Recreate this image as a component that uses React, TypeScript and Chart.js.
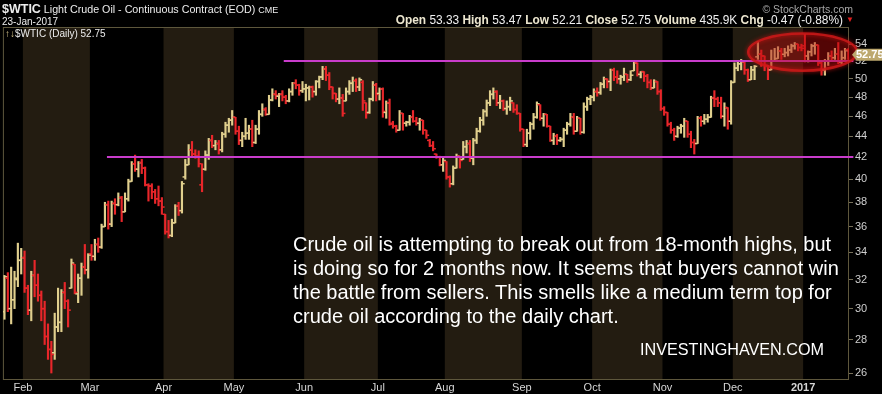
import React, { useEffect, useRef } from 'react';
import { Chart, registerables } from 'chart.js';

Chart.register(...registerables);

// Daily bars, 22-Jan-2016 .. 23-Jan-2017 (index = trading day)
const OPEN = [
  29.8, 32.1, 30.0, 30.6, 32.0, 33.4, 33.6, 31.4, 29.9, 32.3, 31.6, 30.9, 30.0, 28.2, 27.4, 27.2, 28.8, 29.1, 31.1, 30.5,
  31.4, 33.1, 31.0, 32.1, 32.9, 32.7, 33.9, 33.7, 34.6, 34.4, 36.0, 37.8, 36.2, 37.9, 37.8, 38.4, 37.2, 38.3, 39.8, 41.4,
  40.9, 41.5, 41.0, 39.5, 39.4, 38.9, 38.3, 38.1, 37.0, 35.6, 35.3, 36.3, 37.7, 37.3, 40.2, 41.3, 42.7, 42.3, 42.1, 39.5,
  40.9, 42.2, 43.6, 43.1, 43.3, 42.7, 44.2, 45.1, 45.6, 45.9, 44.5, 43.6, 44.0, 44.3, 44.7, 43.4, 44.7, 46.2, 46.7, 46.2,
  47.7, 48.3, 48.1, 48.3, 48.0, 47.6, 48.6, 49.5, 49.3, 48.7, 48.9, 49.0, 49.1, 48.6, 49.7, 50.2, 51.1, 50.4, 49.1, 48.4,
  47.8, 47.9, 47.6, 48.6, 49.5, 49.8, 49.1, 49.6, 47.4, 46.4, 47.8, 49.3, 48.4, 48.9, 46.4, 47.4, 45.3, 45.0, 44.6, 46.3,
  45.3, 45.4, 45.9, 45.5, 45.3, 45.6, 44.6, 43.6, 43.1, 42.3, 42.0, 41.3, 41.6, 40.2, 39.6, 41.0, 42.1, 41.8, 43.0, 43.3,
  41.9, 43.6, 44.5, 45.6, 46.5, 47.4, 48.3, 48.6, 47.4, 47.6, 46.8, 47.0, 47.4, 46.7, 46.3, 44.7, 43.2, 44.3, 45.2, 45.9,
  47.2, 45.8, 46.2, 45.0, 43.6, 44.0, 43.6, 43.7, 44.6, 45.2, 45.9, 44.5, 45.8, 44.4, 47.0, 47.8, 48.0, 48.6, 48.5, 49.4,
  50.0, 49.7, 51.0, 50.2, 50.0, 50.2, 50.5, 49.9, 50.9, 51.8, 50.5, 50.8, 50.3, 49.6, 49.0, 49.7, 48.6, 46.8, 46.4, 45.2,
  44.6, 44.0, 44.8, 45.0, 45.5, 44.2, 43.4, 43.3, 45.8, 45.5, 45.7, 45.9, 47.9, 47.8, 47.4, 46.0, 46.9, 45.5, 49.6, 51.2,
  51.7, 51.9, 51.0, 49.9, 51.0, 52.5, 52.8, 52.6, 51.5, 51.0, 52.0, 52.3, 53.2, 52.8, 53.0, 53.3, 53.8, 54.0, 53.6, 53.8,
  52.6, 53.1, 53.8, 53.9, 51.8, 51.0, 52.0, 52.6, 52.4, 52.8, 51.9, 52.4, 53.33,
];
const HIGH = [
  32.3, 32.5, 32.9, 32.6, 34.7, 34.3, 34.1, 31.6, 32.6, 33.4, 32.4, 31.2, 30.5, 29.0, 27.9, 29.7, 31.4, 31.3, 31.8, 30.6,
  33.5, 33.1, 32.4, 33.2, 34.6, 33.9, 34.6, 35.0, 35.1, 36.2, 38.0, 38.1, 38.1, 38.3, 38.8, 38.5, 38.8, 40.0, 41.6, 42.2,
  41.6, 41.8, 41.1, 39.6, 39.6, 39.1, 39.4, 38.4, 37.0, 36.5, 36.6, 37.8, 38.0, 39.8, 41.8, 43.2, 43.5, 42.7, 42.6, 41.4,
  42.6, 43.8, 44.1, 43.6, 43.6, 44.4, 45.4, 45.8, 46.6, 45.9, 45.0, 44.4, 45.8, 45.1, 45.6, 45.1, 46.6, 47.3, 46.9, 48.2,
  48.9, 48.7, 48.4, 48.7, 48.2, 48.9, 49.6, 49.9, 49.4, 49.7, 49.4, 49.2, 49.2, 49.8, 50.3, 51.4, 51.4, 50.7, 49.1, 48.4,
  49.0, 48.3, 49.0, 49.8, 50.2, 50.0, 50.1, 49.8, 47.4, 47.9, 49.7, 49.5, 49.0, 49.0, 47.6, 47.8, 45.5, 45.1, 46.6, 46.3,
  45.5, 46.1, 46.6, 45.9, 45.8, 45.6, 44.6, 43.7, 43.5, 42.3, 42.1, 41.9, 41.6, 40.3, 41.2, 42.3, 42.1, 43.5, 43.6, 43.6,
  43.8, 44.8, 45.9, 46.7, 47.7, 48.7, 49.0, 48.7, 48.2, 47.7, 47.6, 48.0, 47.4, 47.2, 46.3, 44.7, 44.7, 45.4, 46.3, 47.5,
  47.2, 46.3, 46.2, 45.0, 44.3, 44.2, 43.9, 44.8, 45.4, 46.3, 46.3, 46.0, 45.8, 47.4, 48.0, 48.2, 48.9, 49.0, 49.6, 50.2,
  50.0, 51.1, 51.2, 50.9, 50.4, 51.2, 50.5, 50.9, 52.0, 51.8, 50.8, 50.8, 50.5, 49.9, 49.9, 49.7, 48.8, 47.0, 46.4, 45.4,
  44.8, 45.0, 45.2, 45.8, 45.5, 44.5, 43.7, 46.0, 46.0, 46.2, 46.2, 48.1, 48.7, 48.0, 48.0, 47.4, 46.9, 49.8, 51.8, 52.0,
  52.2, 51.9, 51.1, 51.4, 51.5, 54.3, 53.3, 52.6, 51.5, 53.3, 53.5, 53.7, 53.5, 53.5, 53.8, 54.0, 54.2, 54.0, 54.0, 55.2,
  53.2, 54.0, 54.2, 53.9, 52.0, 52.2, 53.0, 53.2, 53.5, 54.2, 53.2, 53.5, 53.47,
];
const LOW = [
  29.3, 29.8, 29.0, 30.0, 31.5, 32.4, 31.1, 29.6, 29.2, 30.8, 30.5, 29.2, 27.7, 26.8, 26.0, 26.8, 28.5, 28.5, 30.0, 28.8,
  31.4, 31.0, 30.4, 30.9, 32.4, 32.1, 33.4, 33.4, 34.0, 34.3, 36.0, 35.8, 36.0, 37.0, 37.7, 36.4, 37.2, 38.1, 39.8, 40.7,
  40.2, 40.5, 39.4, 38.1, 38.3, 37.9, 37.7, 37.0, 35.4, 35.1, 35.2, 36.3, 36.9, 37.1, 40.0, 41.3, 42.1, 41.9, 41.1, 38.9,
  40.8, 41.8, 42.9, 42.7, 42.3, 42.5, 43.9, 44.4, 45.1, 44.2, 43.2, 43.0, 43.7, 43.7, 43.0, 43.3, 44.2, 46.0, 46.1, 46.2,
  47.6, 47.8, 47.0, 47.6, 47.3, 47.5, 48.2, 48.9, 48.2, 48.5, 47.6, 47.7, 48.0, 48.2, 49.0, 49.9, 49.8, 48.8, 47.8, 47.5,
  47.3, 46.0, 47.6, 48.3, 48.6, 48.6, 48.7, 46.6, 45.8, 46.3, 47.6, 47.6, 47.7, 45.9, 45.8, 45.1, 44.8, 44.4, 44.6, 44.6,
  45.0, 45.1, 45.4, 45.1, 44.6, 44.2, 43.8, 43.0, 42.6, 41.9, 41.2, 40.7, 40.0, 39.3, 39.5, 41.0, 41.0, 41.8, 42.4, 41.6,
  41.3, 43.3, 44.4, 45.1, 46.0, 47.1, 47.8, 47.1, 46.8, 46.6, 46.2, 46.6, 46.4, 46.2, 44.5, 43.0, 43.0, 43.7, 44.7, 45.8,
  45.6, 45.0, 44.9, 43.5, 43.2, 43.2, 43.5, 43.0, 44.2, 45.0, 44.2, 44.5, 44.2, 44.3, 46.6, 47.2, 47.6, 48.1, 48.3, 49.0,
  49.0, 48.7, 49.8, 49.5, 49.4, 49.8, 49.6, 49.8, 50.9, 50.3, 50.1, 49.7, 49.0, 48.8, 49.0, 48.3, 46.6, 46.1, 45.0, 44.3,
  43.6, 43.9, 44.3, 43.9, 43.9, 42.9, 42.3, 43.3, 45.0, 45.2, 45.4, 45.9, 47.0, 47.0, 45.8, 45.0, 44.7, 45.2, 49.6, 50.9,
  51.0, 50.5, 49.7, 49.9, 49.9, 52.2, 51.4, 50.9, 49.9, 51.0, 52.0, 52.3, 52.2, 52.5, 52.6, 53.0, 53.4, 53.2, 53.2, 51.9,
  51.9, 52.6, 52.8, 51.5, 50.4, 50.4, 51.5, 52.0, 52.2, 51.7, 51.7, 52.2, 52.21,
];
const CLOSE = [
  32.2, 30.0, 30.6, 32.1, 33.4, 33.6, 31.4, 29.9, 32.3, 31.6, 30.9, 30.0, 28.2, 27.4, 27.1, 28.8, 29.1, 31.1, 30.5, 29.9,
  33.2, 31.1, 32.1, 32.9, 32.7, 33.8, 33.7, 34.6, 34.4, 36.0, 37.8, 36.2, 37.9, 37.8, 38.4, 37.2, 38.3, 39.8, 41.4, 40.9,
  41.5, 41.0, 39.5, 39.4, 38.9, 38.3, 38.1, 37.6, 35.6, 35.3, 36.3, 37.7, 37.3, 39.6, 41.3, 42.7, 42.3, 42.1, 41.4, 40.9,
  42.2, 43.6, 43.1, 43.3, 42.7, 44.2, 45.1, 45.6, 45.9, 44.5, 43.6, 44.0, 44.3, 44.7, 43.4, 44.7, 46.2, 46.7, 46.2, 47.7,
  48.3, 48.2, 48.3, 48.0, 47.6, 48.6, 49.5, 49.3, 48.7, 48.9, 49.0, 49.1, 48.6, 49.7, 50.2, 51.1, 50.4, 49.1, 48.4, 47.8,
  47.9, 46.3, 48.6, 49.5, 49.8, 49.1, 49.9, 47.6, 46.3, 47.8, 49.3, 48.3, 48.9, 46.5, 47.4, 45.2, 45.0, 44.6, 46.3, 45.3,
  45.4, 45.9, 45.5, 45.3, 45.6, 44.6, 44.1, 43.1, 42.8, 42.0, 41.3, 41.7, 40.2, 39.6, 41.0, 42.1, 41.7, 43.0, 43.3, 41.9,
  43.6, 44.5, 45.6, 46.5, 47.4, 48.3, 48.6, 47.4, 47.6, 46.8, 47.0, 47.6, 46.7, 46.3, 44.7, 43.2, 44.3, 45.2, 45.9, 47.3,
  45.8, 46.2, 45.0, 43.6, 44.0, 43.6, 43.7, 44.6, 45.2, 45.9, 44.5, 45.8, 44.4, 47.0, 47.8, 48.0, 48.6, 48.5, 49.4, 50.0,
  49.7, 51.0, 50.2, 50.0, 50.2, 50.5, 49.9, 50.4, 51.8, 50.5, 50.8, 50.3, 49.6, 49.0, 49.7, 48.6, 46.8, 46.4, 45.2, 44.6,
  44.0, 44.8, 45.0, 45.5, 44.2, 43.4, 43.3, 45.8, 45.5, 45.7, 45.9, 47.9, 47.8, 47.4, 46.0, 46.9, 45.5, 49.6, 51.2, 51.7,
  51.9, 51.0, 49.9, 51.0, 51.4, 52.8, 52.6, 51.5, 51.0, 52.0, 52.3, 53.2, 52.8, 53.0, 53.3, 53.8, 54.0, 53.6, 53.5, 52.6,
  53.1, 53.8, 53.9, 51.8, 51.0, 52.0, 52.6, 52.4, 52.8, 51.9, 52.4, 53.22, 52.75,
];

// Index of the first trading day of each month shown on the x axis
const MONTH_STARTS = [6, 26, 48, 69, 90, 112, 132, 155, 176, 197, 218, 239];
const MONTH_LABELS = ['Feb', 'Mar', 'Apr', 'May', 'Jun', 'Jul', 'Aug', 'Sep', 'Oct', 'Nov', 'Dec', '2017'];
const SHADED_MONTHS = ['Feb', 'Apr', 'Jun', 'Aug', 'Oct', 'Dec'];
const Y_TICKS = [26, 28, 30, 32, 34, 36, 38, 40, 42, 44, 46, 48, 50, 52, 54];

// Axis ranges
const X_MIN = -0.47;
const X_MAX = 252.2;
const Y_MIN = 25.6;
const Y_MAX = 56.1;

// Annotations (data coordinates)
const SUPPORT = { y: 42, from: 30.6, to: 253.5 };
const RESISTANCE = { y: 52, from: 83.4, to: 253.5 };
const ELLIPSE = { x0: 222.1, x1: 254.6, yLow: 50.9, yHigh: 55.3 };
const LAST_PRICE = 52.75;

const UP = '#e0cf8e';
const DOWN = '#e8262a';
const FONT = '"Liberation Sans", Arial, sans-serif';

const overlayPlugin = {
  id: 'overlay',
  beforeDatasetsDraw(chart: any) {
    const { ctx, chartArea: a, scales } = chart;
    const x = scales.x;
    ctx.save();
    ctx.fillStyle = '#231c11';
    MONTH_STARTS.forEach((s, k) => {
      if (!SHADED_MONTHS.includes(MONTH_LABELS[k])) return;
      const e = k + 1 < MONTH_STARTS.length ? MONTH_STARTS[k + 1] : CLOSE.length;
      const x0 = x.getPixelForValue(s - 0.5);
      const x1 = x.getPixelForValue(e - 0.5);
      ctx.fillRect(x0, a.top, x1 - x0, a.bottom - a.top);
    });
    ctx.strokeStyle = '#5e573c';
    ctx.lineWidth = 1;
    ctx.strokeRect(a.left + 0.5, a.top + 0.5, a.right - a.left - 1, a.bottom - a.top - 1);
    ctx.restore();
  },
  afterDatasetsDraw(chart: any) {
    const { ctx, chartArea: a, scales } = chart;
    const x = scales.x;
    const y = scales.y;
    ctx.save();
    // horizontal support / resistance lines
    ctx.strokeStyle = '#c93ccb';
    ctx.lineWidth = 2;
    [SUPPORT, RESISTANCE].forEach((l) => {
      const py = Math.round(y.getPixelForValue(l.y));
      ctx.beginPath();
      ctx.moveTo(x.getPixelForValue(l.from), py);
      ctx.lineTo(x.getPixelForValue(l.to), py);
      ctx.stroke();
    });
    // ellipse around the recent range
    const ex0 = x.getPixelForValue(ELLIPSE.x0);
    const ex1 = x.getPixelForValue(ELLIPSE.x1);
    const ey0 = y.getPixelForValue(ELLIPSE.yHigh);
    const ey1 = y.getPixelForValue(ELLIPSE.yLow);
    ctx.beginPath();
    ctx.ellipse((ex0 + ex1) / 2, (ey0 + ey1) / 2, (ex1 - ex0) / 2, (ey1 - ey0) / 2, 0, 0, Math.PI * 2);
    ctx.fillStyle = 'rgba(185, 10, 10, 0.45)';
    ctx.fill();
    ctx.shadowColor = 'rgba(220,20,20,0.9)';
    ctx.shadowBlur = 4;
    ctx.strokeStyle = 'rgba(205, 25, 25, 0.85)';
    ctx.lineWidth = 2.5;
    ctx.stroke();
    ctx.shadowBlur = 0;
    // last price marker on the right axis
    const py = y.getPixelForValue(LAST_PRICE);
    const bx = a.right + 3;
    ctx.fillStyle = '#bda86e';
    ctx.beginPath();
    ctx.moveTo(bx, py);
    ctx.lineTo(bx + 5, py - 6);
    ctx.lineTo(882, py - 6);
    ctx.lineTo(882, py + 6);
    ctx.lineTo(bx + 5, py + 6);
    ctx.closePath();
    ctx.fill();
    ctx.fillStyle = '#ffffff';
    ctx.font = `bold 11px ${FONT}`;
    ctx.textBaseline = 'middle';
    ctx.textAlign = 'left';
    ctx.fillText(LAST_PRICE.toFixed(2), bx + 4, py + 0.5);
    ctx.restore();
  },
};

export default function App() {
  const ref = useRef<HTMLCanvasElement>(null);

  useEffect(() => {
    if (!ref.current) return;
    const colors = CLOSE.map((c, i) => (i === 0 || c >= CLOSE[i - 1] ? UP : DOWN));
    const tick = {
      type: 'scatter',
      pointStyle: 'line',
      pointRadius: 1.4,
      pointBorderWidth: 1.5,
      pointBorderColor: colors,
      pointBackgroundColor: colors,
      pointHoverRadius: 0,
      showLine: false,
      order: 1,
    };
    const chart = new Chart(ref.current, {
      type: 'bar',
      data: {
        datasets: [
          {
            type: 'bar',
            data: CLOSE.map((_, i) => ({ x: i, y: [LOW[i], HIGH[i]] })) as any,
            backgroundColor: colors,
            barThickness: 1.5,
            borderWidth: 0,
            grouped: false,
            order: 2,
          } as any,
          { ...tick, data: OPEN.map((o, i) => ({ x: i - 0.4, y: o })) } as any,
          { ...tick, data: CLOSE.map((c, i) => ({ x: i + 0.4, y: c })) } as any,
        ],
      },
      options: {
        animation: false,
        responsive: false,
        devicePixelRatio: 1,
        events: [],
        layout: { padding: { left: 2, top: 27, right: 0, bottom: 0 } },
        plugins: { legend: { display: false }, tooltip: { enabled: false } },
        scales: {
          x: {
            type: 'linear',
            min: X_MIN,
            max: X_MAX,
            offset: false,
            bounds: 'data',
            grid: { display: false, drawTicks: false },
            border: { display: false },
            afterBuildTicks: (s: any) => {
              s.ticks = MONTH_STARTS.map((v) => ({ value: v - 0.5 }));
            },
            afterFit: (s: any) => {
              s.height = 14;
            },
            ticks: {
              autoSkip: false,
              maxRotation: 0,
              padding: 1,
              color: '#d6d6d6',
              font: (c: any) => ({
                family: FONT,
                size: 11,
                weight: MONTH_LABELS[c.index] === '2017' ? 'bold' : 'normal',
              }),
              callback: (_v: any, idx: number) => MONTH_LABELS[idx],
            },
          } as any,
          y: {
            type: 'logarithmic',
            position: 'right',
            min: Y_MIN,
            max: Y_MAX,
            bounds: 'data',
            grid: { drawOnChartArea: false, tickLength: 4, color: '#77705a' },
            border: { display: false },
            afterBuildTicks: (s: any) => {
              s.ticks = Y_TICKS.map((v) => ({ value: v }));
            },
            afterFit: (s: any) => {
              s.width = 33;
            },
            ticks: {
              autoSkip: false,
              padding: 2,
              color: '#cfcfcf',
              font: { family: FONT, size: 11 },
              callback: (v: any) => String(v),
            },
          } as any,
        },
      },
      plugins: [overlayPlugin],
    });
    return () => chart.destroy();
  }, []);

  const lbl: React.CSSProperties = { fontWeight: 'bold', color: '#ece6cf' };
  return (
    <div
      style={{
        position: 'fixed',
        left: 0,
        top: 0,
        width: 882,
        height: 394,
        background: '#000',
        overflow: 'hidden',
        fontFamily: FONT,
      }}
    >
      <canvas ref={ref} width={882} height={394} style={{ position: 'absolute', left: 0, top: 0 }} />
      <div style={{ position: 'absolute', left: 2, top: 1, color: '#ececec', fontSize: 10.7, lineHeight: '16px', whiteSpace: 'nowrap' }}>
        <span style={{ fontWeight: 'bold', fontSize: 12.5 }}>$WTIC</span> Light Crude Oil - Continuous Contract (EOD){' '}
        <span style={{ fontSize: 9 }}>CME</span>
      </div>
      <div style={{ position: 'absolute', left: 2, top: 15, color: '#ececec', fontSize: 10, lineHeight: '14px', whiteSpace: 'nowrap' }}>
        23-Jan-2017
      </div>
      <div style={{ position: 'absolute', right: 29, top: 2, color: '#a8a8a8', fontSize: 10.5, lineHeight: '14px', whiteSpace: 'nowrap' }}>
        © StockCharts.com
      </div>
      <div style={{ position: 'absolute', right: 39, top: 13, color: '#f0f0f0', fontSize: 11.9, lineHeight: '14px', whiteSpace: 'nowrap' }}>
        <span style={lbl}>Open</span> 53.33 <span style={lbl}>High</span> 53.47 <span style={lbl}>Low</span> 52.21{' '}
        <span style={lbl}>Close</span> 52.75 <span style={lbl}>Volume</span> 435.9K <span style={lbl}>Chg</span> -0.47 (-0.88%)
      </div>
      <div style={{ position: 'absolute', left: 846, top: 13, color: '#e02020', fontSize: 8, lineHeight: '14px' }}>▼</div>
      <div style={{ position: 'absolute', left: 5, top: 27, color: '#ececec', fontSize: 10, lineHeight: '13px', whiteSpace: 'nowrap' }}>
        <span style={{ color: '#d8c68a' }}>↑↓</span>$WTIC (Daily) 52.75
      </div>
      <div
        style={{
          position: 'absolute',
          left: 293,
          top: 232,
          color: '#ffffff',
          fontSize: 20,
          lineHeight: '24px',
          whiteSpace: 'nowrap',
        }}
      >
        Crude oil is attempting to break out from 18-month highs, but
        <br />
        is doing so for 2 months now. It seems that buyers cannot win
        <br />
        the battle from sellers. This smells like a medium term top for
        <br />
        crude oil according to the daily chart.
      </div>
      <div style={{ position: 'absolute', left: 640, top: 339, color: '#ffffff', fontSize: 16.2, lineHeight: '20px', whiteSpace: 'nowrap' }}>
        INVESTINGHAVEN.COM
      </div>
    </div>
  );
}
